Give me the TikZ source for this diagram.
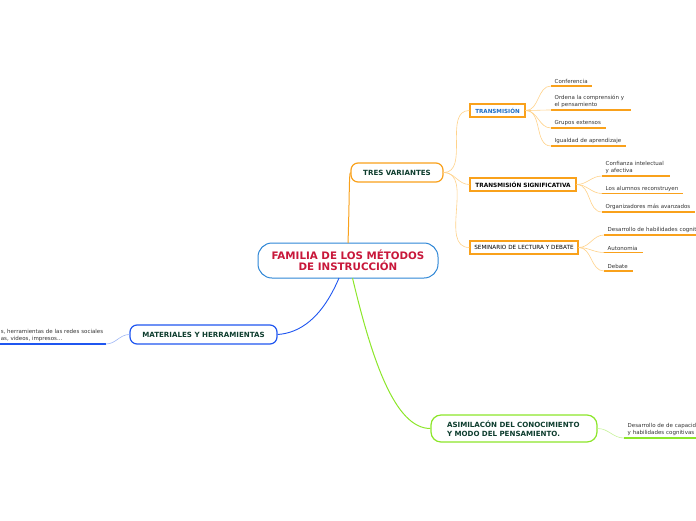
\documentclass[tikz,border=0pt]{standalone}
\usepackage{fontspec}
\setmainfont{DejaVu Sans}
\definecolor{cblue}{HTML}{2E86D6}
\definecolor{cred}{HTML}{C8173A}
\definecolor{corange}{HTML}{F9A11B}
\definecolor{clorange}{HTML}{FFD28A}
\definecolor{cmblue}{HTML}{1F56F0}
\definecolor{clblue}{HTML}{9DB5F5}
\definecolor{cgreen}{HTML}{8CE62A}
\definecolor{clgreen}{HTML}{C6F29A}
\definecolor{cdgreen}{HTML}{0E3D2E}
\definecolor{ctblue}{HTML}{1A6BC4}
\definecolor{ctext}{HTML}{333333}
\hyphenpenalty=10000
\tikzset{
  central/.style={draw=cblue, line width=1pt, fill=white, rounded corners=14pt, minimum width=180pt, minimum height=35pt, inner sep=0pt, align=center, text=cred, font=\bfseries\fontsize{10.3}{11.5}\selectfont},
  mainbox/.style={line width=1.2pt, fill=white, rounded corners=7pt, inner sep=0pt, text=cdgreen, font=\bfseries\fontsize{7.1}{8}\selectfont},
  subbox/.style={draw=corange, line width=1.4pt, fill=white, inner sep=0pt, minimum height=13pt, font=\fontsize{5.7}{6.5}\selectfont},
  leaf/.style={inner xsep=3.5pt, inner ysep=2pt, anchor=south west, align=left, text=ctext, font=\fontsize{5.5}{7.6}\selectfont},
  uline/.style={line width=1.4pt},
  thin/.style={line width=0.6pt}
}
\begin{document}
\begin{tikzpicture}[x=1pt,y=-1pt]
\useasboundingbox (0,0) rectangle (696,520);
% main nodes
\node[central] (c) at (348,260.5) {FAMILIA DE LOS MÉTODOS\\DE INSTRUCCIÓN};
\node[mainbox, draw=corange, minimum width=92pt, minimum height=19pt] (tres) at (397,172.5) {TRES VARIANTES};
\node[mainbox, draw=cmblue, minimum width=147pt, minimum height=19pt] (mat) at (203.5,334.5) {MATERIALES Y HERRAMIENTAS};
\node[mainbox, draw=cgreen, rounded corners=10pt, minimum width=166pt, minimum height=27pt, text width=134pt, align=left, font=\bfseries\fontsize{7.1}{9.5}\selectfont] (asim) at (514,428.5) {ASIMILACÓN DEL CONOCIMIENTO\\Y MODO DEL PENSAMIENTO.};
% sub boxes
\node[subbox, minimum width=55pt, text=ctblue, font=\bfseries\fontsize{5.6}{6.5}\selectfont] (tr) at (497.5,110.5) {TRANSMISIÓN};
\node[subbox, minimum width=106pt, text=black, font=\bfseries\fontsize{5.8}{6.5}\selectfont] (ts) at (523,184.5) {TRANSMISIÓN SIGNIFICATIVA};
\node[subbox, minimum width=108pt, text=black] (sem) at (524,247.5) {SEMINARIO DE LECTURA Y DEBATE};
% leaves of TRANSMISION
\node[leaf, text width=34pt] (l1) at (551,86) {Conferencia};
\node[leaf, text width=73pt] (l2) at (551,110) {Ordena la comprensión y\\el pensamiento};
\node[leaf, text width=48pt] (l3) at (551,128) {Grupos extensos};
\node[leaf, text width=68pt] (l4) at (551,146) {Igualdad de aprendizaje};
% leaves of TS
\node[leaf, text width=61pt] (m1) at (602,176) {Confianza intelectual\\y afectiva};
\node[leaf, text width=74pt] (m2) at (602,193.5) {Los alumnos reconstruyen};
\node[leaf, text width=86pt] (m3) at (602,212) {Organizadores más avanzados};
% leaves of SEM
\node[leaf, text width=100pt] (s1) at (604,235) {Desarrollo de habilidades cognit};
\node[leaf, text width=32pt] (s2) at (604,252.5) {Autonomia};
\node[leaf, text width=22pt] (s3) at (604,271) {Debate};
% leaf of MAT
\node[leaf, anchor=south east, inner xsep=1pt, text width=104pt] (p1) at (106,344) {s, herramientas de las redes sociales\\as, videos, impresos...};
% leaf of ASIM
\node[leaf, text width=85pt] (a1) at (624,438) {Desarrollo de de capacid\\y habilidades cognitivas};
% underlines
\foreach \n in {l1,l2,l3,l4,m1,m2,m3,s2,s3}{\draw[uline, corange] (\n.south west) -- (\n.south east);}
\draw[uline, corange] (s1.south west) -- (s1.south -| 696,0);
\draw[uline, cmblue] (p1.south -| 0,0) -- (p1.south east);
\draw[uline, cgreen] (a1.south west) -- (a1.south -| 696,0);
% main connectors
\draw[corange, line width=1pt] (348,243) .. controls (349.5,200) and (349,174) .. (tres.west);
\draw[cmblue, line width=0.9pt] (339,278) .. controls (322,318) and (300,333) .. (mat.east);
\draw[cgreen, line width=1pt] (352.5,278) .. controls (372,360) and (395,428.5) .. (asim.west);
% thin connectors
\foreach \n in {tr,ts,sem}{\draw[thin, clorange] (tres.east) to[out=0,in=180] (\n.west);}
\foreach \n in {l1,l2,l3,l4}{\draw[thin, clorange] (tr.east) to[out=0,in=180] (\n.south west);}
\foreach \n in {m1,m2,m3}{\draw[thin, clorange] (ts.east) to[out=0,in=180] (\n.south west);}
\foreach \n in {s1,s2,s3}{\draw[thin, clorange] (sem.east) to[out=0,in=180] (\n.south west);}
\draw[thin, clblue] (mat.west) to[out=180,in=0] (p1.south east);
\draw[thin, clgreen] (asim.east) to[out=0,in=180] (a1.south west);
\end{tikzpicture}
\end{document}
